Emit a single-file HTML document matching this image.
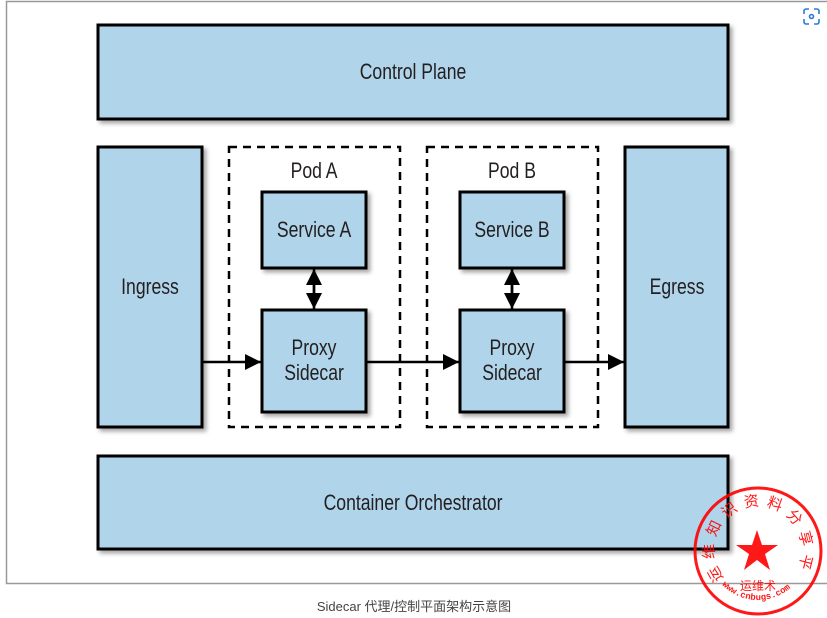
<!DOCTYPE html>
<html><head><meta charset="utf-8"><style>
html,body{margin:0;padding:0;background:#fff;width:827px;height:618px;overflow:hidden}
svg{display:block}
.t{font-family:"Liberation Sans",sans-serif;font-size:22px;fill:#231f20;text-anchor:middle;transform-box:fill-box;transform-origin:center;transform:scaleX(0.8)}
</style></head><body>
<svg width="827" height="618" viewBox="0 0 827 618" xmlns="http://www.w3.org/2000/svg">
<defs>
<filter id="sh" x="-10%" y="-10%" width="130%" height="130%"><feDropShadow dx="3" dy="3" stdDeviation="2" flood-color="#000" flood-opacity="0.35"/></filter>
<marker id="ah" markerWidth="16" markerHeight="16" refX="14" refY="7" orient="auto" markerUnits="userSpaceOnUse" viewBox="0 0 14 14"><path d="M0,0 L14,7 L0,14 z" fill="#000"/></marker>
<path id="arc" d="M 724,578 A 44,44 0 1 1 792,578"/>
<path id="arc2" d="M 718,580 A 50,50 0 0 0 798,580"/>
</defs>
<rect x="6.5" y="1.5" width="830" height="582" fill="#fff" stroke="#999" stroke-width="1.5"/>
<g fill="none" stroke="#2a7bd4" stroke-width="1.6">
<path d="M804,14 v-3 a2,2 0 0 1 2,-2 h3 M814,9 h3 a2,2 0 0 1 2,2 v3 M819,19 v3 a2,2 0 0 1 -2,2 h-3 M809,24 h-3 a2,2 0 0 1 -2,-2 v-3"/>
<circle cx="811.5" cy="16.5" r="2"/>
</g>
<g fill="#b0d4ea" stroke="#000" stroke-width="3" filter="url(#sh)">
<rect x="98" y="25" width="630" height="94"/>
<rect x="98" y="147" width="104" height="280"/>
<rect x="625" y="147" width="103" height="280"/>
<rect x="98" y="456" width="630" height="93"/>
<rect x="262" y="192" width="104" height="76"/>
<rect x="262" y="310" width="104" height="102"/>
<rect x="460" y="192" width="104" height="76"/>
<rect x="460" y="310" width="104" height="102"/>
</g>
<g fill="none" stroke="#000" stroke-width="2.5" stroke-dasharray="8,6">
<rect x="229" y="147" width="171" height="280"/>
<rect x="427" y="147" width="171" height="280"/>
</g>
<g stroke="#000" stroke-width="2.5" marker-end="url(#ah)">
<line x1="202" y1="362" x2="261" y2="362"/>
<line x1="366" y1="362" x2="459" y2="362"/>
<line x1="564" y1="362" x2="624" y2="362"/>
<line x1="314" y1="285" x2="314" y2="309"/>
<line x1="314" y1="293" x2="314" y2="269"/>
<line x1="512" y1="285" x2="512" y2="309"/>
<line x1="512" y1="293" x2="512" y2="269"/>
</g>
<text class="t" x="413" y="79">Control Plane</text>
<text class="t" x="150" y="294">Ingress</text>
<text class="t" x="677" y="294">Egress</text>
<text class="t" x="413" y="510">Container Orchestrator</text>
<text class="t" x="314" y="178">Pod A</text>
<text class="t" x="512" y="178">Pod B</text>
<text class="t" x="314" y="237">Service A</text>
<text class="t" x="512" y="237">Service B</text>
<text class="t" x="314" y="355">Proxy</text>
<text class="t" x="314" y="380">Sidecar</text>
<text class="t" x="512" y="355">Proxy</text>
<text class="t" x="512" y="380">Sidecar</text>
<text x="414" y="611" font-family="Liberation Sans,'Noto Sans CJK SC',sans-serif" font-size="13" fill="#444" text-anchor="middle">Sidecar 代理/控制平面架构示意图</text>
<g opacity="0.9">
<circle cx="758" cy="551" r="63" fill="none" stroke="#f00" stroke-width="3"/>
<polygon fill="#f00" points="757,530 762,545 778,545 765,554 770,570 757,560 744,570 749,554 736,545 752,545"/>
<text font-family="'Noto Sans CJK SC',sans-serif" font-size="15" fill="#f00"><textPath href="#arc" startOffset="0" textLength="208" lengthAdjust="spacing">运维知识资料分享平台</textPath></text>
<text x="758" y="590" font-family="'Noto Sans CJK SC',sans-serif" font-size="12" fill="#f00" text-anchor="middle">运维术</text>
<text font-family="Liberation Mono,monospace" font-size="9" fill="#f00" font-weight="bold"><textPath href="#arc2" startOffset="6">www.cnbugs.com</textPath></text>
</g>
</svg>
</body></html>
